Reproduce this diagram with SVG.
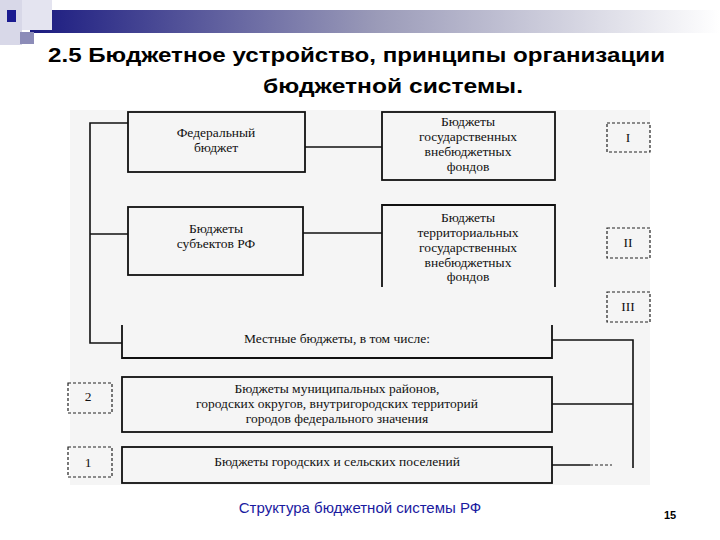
<svg xmlns="http://www.w3.org/2000/svg" width="720" height="540" viewBox="0 0 720 540">
<defs>
<linearGradient id="bar" x1="0" x2="1" y1="0" y2="0">
<stop offset="0" stop-color="#1a1a80"/><stop offset="0.5" stop-color="#9a9ab8"/><stop offset="1" stop-color="#ffffff"/>
</linearGradient>
<style>
.b{fill:none;stroke:#111;stroke-width:1.8}
.d{fill:none;stroke:#222;stroke-width:1.2;stroke-dasharray:3 2}
.l{fill:none;stroke:#111;stroke-width:1.6}
.t{font-family:"Liberation Serif",serif;font-size:13.5px;fill:#111;text-anchor:middle}
.h{font-family:"Liberation Sans",sans-serif;font-size:21px;font-weight:bold;fill:#000}
</style>
</defs>
<rect width="720" height="540" fill="#fff"/>
<rect x="30" y="10" width="690" height="23" fill="url(#bar)"/>
<rect x="0" y="0" width="22" height="45" fill="#d8d8e8"/>
<rect x="22" y="0" width="30" height="30" fill="#e4e4f0"/>
<rect x="20" y="32" width="14" height="12" fill="#8c8cb8"/>
<rect x="7" y="10" width="9" height="12" fill="#1a1a90"/>
<text class="h" x="48" y="62" textLength="617" lengthAdjust="spacingAndGlyphs">2.5 Бюджетное устройство, принципы организации</text>
<text class="h" x="263" y="93" textLength="260" lengthAdjust="spacingAndGlyphs">бюджетной системы.</text>
<rect x="70" y="110" width="580" height="375" fill="#f5f5f5"/>
<g id="connectors">
<path class="l" d="M305 147H382M303 233H382M128 123H90V343H122M128 234H90"/>
<path class="l" d="M552 340H633V468M552 404H633M552 465H590"/>
<path class="d" d="M590 465H612"/>
</g>
<g id="n-fed"><rect class="b" x="128" y="112" width="177" height="60"/><text class="t" x="216" y="137">Федеральный</text><text class="t" x="216" y="152">бюджет</text></g>
<g id="n-fund1"><rect class="b" x="382" y="112" width="173" height="68"/><text class="t" x="468" y="126">Бюджеты</text><text class="t" x="468" y="141">государственных</text><text class="t" x="468" y="156">внебюджетных</text><text class="t" x="468" y="171">фондов</text></g>
<g id="n-subj"><rect class="b" x="128" y="207" width="175" height="68"/><text class="t" x="216" y="233">Бюджеты</text><text class="t" x="216" y="248">субъектов РФ</text></g>
<g id="n-fund2"><path class="b" d="M382 287V205H555V287"/><text class="t" x="468" y="222">Бюджеты</text><text class="t" x="468" y="237">территориальных</text><text class="t" x="468" y="252">государственных</text><text class="t" x="468" y="267">внебюджетных</text><text class="t" x="468" y="281">фондов</text></g>
<g id="n-I"><rect class="d" x="607" y="123" width="43" height="29"/><text class="t" x="628" y="142">I</text></g>
<g id="n-II"><rect class="d" x="607" y="228" width="43" height="30"/><text class="t" x="628" y="247">II</text></g>
<g id="n-III"><rect class="d" x="607" y="292" width="43" height="30"/><text class="t" x="628" y="311">III</text></g>
<g id="n-local"><path class="b" d="M122 325V358H552V325"/><text class="t" x="337" y="343">Местные бюджеты, в том числе:</text></g>
<g id="n-muni"><rect class="b" x="122" y="377" width="430" height="55"/><text class="t" x="337" y="393">Бюджеты муниципальных районов,</text><text class="t" x="337" y="408">городских округов, внутригородских территорий</text><text class="t" x="337" y="423">городов федерального значения</text></g>
<g id="n-2"><rect class="d" x="68" y="383" width="44" height="30"/><text class="t" x="88" y="401">2</text></g>
<g id="n-pos"><rect class="b" x="122" y="447" width="430" height="36"/><text class="t" x="337" y="466">Бюджеты городских и сельских поселений</text></g>
<g id="n-1"><rect class="d" x="68" y="447" width="44" height="30"/><text class="t" x="88" y="467">1</text></g>
<text x="360" y="513" font-family="Liberation Sans,sans-serif" font-size="15" fill="#1a1aa0" text-anchor="middle">Структура бюджетной системы РФ</text>
<text x="670" y="519" font-family="Liberation Sans,sans-serif" font-size="11" font-weight="bold" fill="#000" text-anchor="middle">15</text>
</svg>
